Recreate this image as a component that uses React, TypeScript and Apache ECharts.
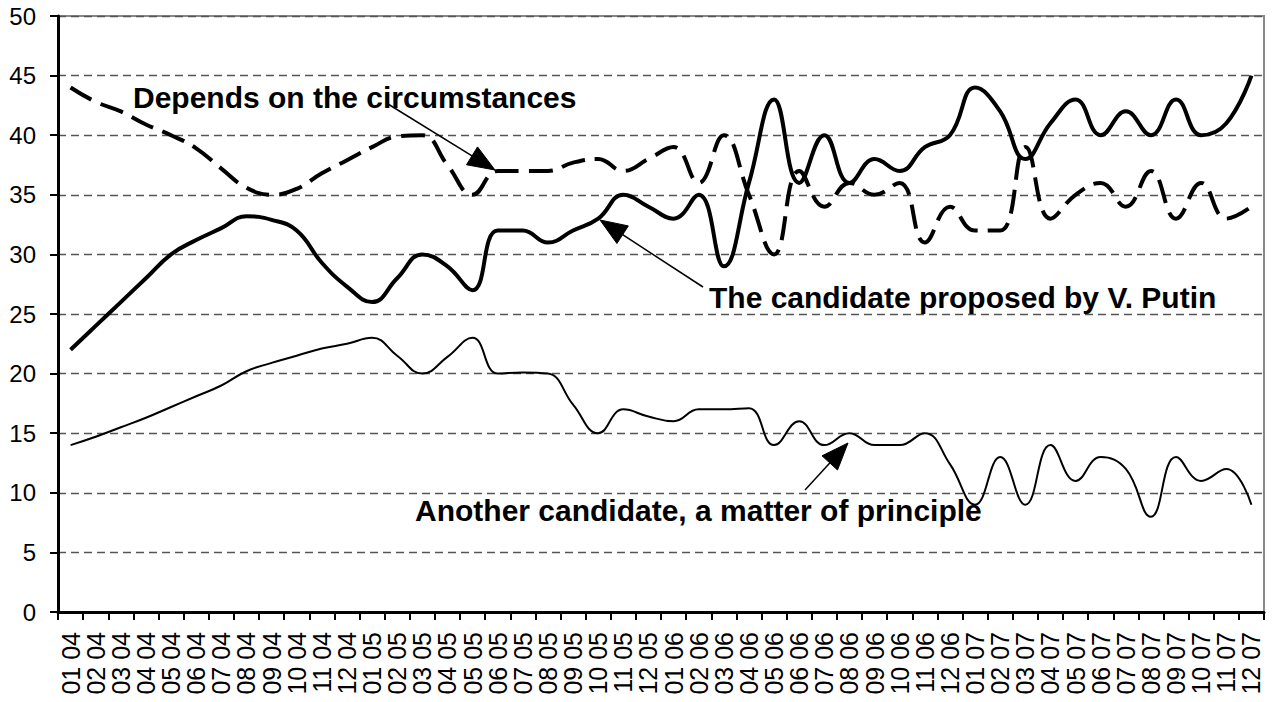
import React, { useEffect, useRef } from 'react';
import * as echarts from 'echarts';

const categories = [
  '01 04', '02 04', '03 04', '04 04', '05 04', '06 04', '07 04', '08 04', '09 04', '10 04', '11 04', '12 04',
  '01 05', '02 05', '03 05', '04 05', '05 05', '06 05', '07 05', '08 05', '09 05', '10 05', '11 05', '12 05',
  '01 06', '02 06', '03 06', '04 06', '05 06', '06 06', '07 06', '08 06', '09 06', '10 06', '11 06', '12 06',
  '01 07', '02 07', '03 07', '04 07', '05 07', '06 07', '07 07', '08 07', '09 07', '10 07', '11 07', '12 07',
];

// "The candidate proposed by V. Putin"
const putinValues = [
  22, 24, 26, 28, 30, 31.2, 32.2, 33.2, 32.9, 32, 29.3, 27.3,
  26, 28, 30, 29, 27, 32, 32, 31, 32, 33, 35, 34,
  33, 35, 29, 36, 43, 36, 40, 36, 38, 37, 39, 40,
  44, 42, 38, 41, 43, 40, 42, 40, 43, 40, 41, 45,
];

// "Depends on the circumstances"
const dependsValues = [
  44, 42.8, 42, 40.9, 40, 38.9, 37.2, 35.6, 35, 35.5, 36.8, 37.9,
  39, 39.9, 40, 37.5, 35, 37, 37, 37, 37.7, 38, 37, 38,
  39, 36, 40, 35, 30, 37, 34, 36, 35, 36, 31, 34,
  32, 32, 39, 33, 35, 36, 34, 37, 33, 36, 33, 34,
];

// "Another candidate, a matter of principle"
const anotherValues = [
  14, 14.7, 15.5, 16.3, 17.2, 18.1, 19, 20.2, 20.9, 21.5, 22.1, 22.5,
  23, 21.5, 20, 21.4, 23, 20, 20.1, 20, 17.4, 15, 17, 16.4,
  16, 17, 17, 17.1, 14, 16, 14, 15, 14, 14, 15, 12.4,
  9, 13, 9, 14, 11, 13, 12, 8, 13, 11, 12, 9,
];

const yMin = 0;
const yMax = 50;
const yInterval = 5;

const FONT = '"Liberation Sans", Arial, Helvetica, sans-serif';

function arrow(tail: number[], tip: number[]) {
  const dx = tip[0] - tail[0];
  const dy = tip[1] - tail[1];
  const len = Math.sqrt(dx * dx + dy * dy);
  const ux = dx / len;
  const uy = dy / len;
  const L = 27;
  const W = 10.5;
  const bx = tip[0] - ux * L;
  const by = tip[1] - uy * L;
  const nx = -uy;
  const ny = ux;
  return [
    {
      type: 'line',
      shape: { x1: tail[0], y1: tail[1], x2: bx, y2: by },
      style: { stroke: '#000', lineWidth: 1.5 },
      z: 100,
    },
    {
      type: 'polygon',
      shape: {
        points: [
          [tip[0], tip[1]],
          [bx + nx * W, by + ny * W],
          [bx - nx * W, by - ny * W],
        ],
      },
      style: { fill: '#000', stroke: '#000', lineWidth: 1 },
      z: 100,
    },
  ];
}

function label(text: string, x: number, y: number) {
  return {
    type: 'text',
    x,
    y,
    z: 100,
    style: {
      text,
      fill: '#000',
      fontSize: 30,
      fontWeight: 'bold',
      fontFamily: FONT,
      align: 'left',
      verticalAlign: 'middle',
    },
  };
}

export default function App() {
  const ref = useRef<HTMLDivElement>(null);

  useEffect(() => {
    if (!ref.current) return;
    const chart = echarts.init(ref.current, null, { renderer: 'svg' });

    const option: any = {
      animation: false,
      backgroundColor: '#fff',
      grid: {
        left: 58,
        top: 16,
        right: 8,
        bottom: 90,
        show: true,
        borderColor: '#888',
        borderWidth: 2,
        backgroundColor: 'transparent',
      },
      xAxis: {
        type: 'category',
        data: categories,
        boundaryGap: true,
        axisLine: { show: true, lineStyle: { color: '#000', width: 3 } },
        axisTick: {
          show: true,
          interval: 0,
          alignWithLabel: false,
          length: 8,
          lineStyle: { color: '#000', width: 2 },
        },
        axisLabel: {
          interval: 0,
          rotate: 90,
          margin: 20,
          color: '#000',
          fontSize: 25,
          fontFamily: FONT,
        },
        splitLine: { show: false },
      },
      yAxis: {
        type: 'value',
        min: yMin,
        max: yMax,
        interval: yInterval,
        axisLine: { show: true, lineStyle: { color: '#000', width: 3 } },
        axisTick: { show: true, length: 8, lineStyle: { color: '#000', width: 2 } },
        axisLabel: {
          margin: 22,
          color: '#000',
          fontSize: 24,
          fontFamily: FONT,
        },
        splitLine: {
          show: true,
          lineStyle: { color: '#555', width: 1.3, type: [8, 5] },
        },
      },
      series: [
        {
          name: 'Another candidate, a matter of principle',
          type: 'line',
          data: anotherValues,
          smooth: 0.45,
          symbol: 'none',
          lineStyle: { color: '#000', width: 2 },
          z: 3,
        },
        {
          name: 'Depends on the circumstances',
          type: 'line',
          data: dependsValues,
          smooth: 0.45,
          symbol: 'none',
          lineStyle: { color: '#000', width: 4, type: [24, 10] },
          z: 4,
        },
        {
          name: 'The candidate proposed by V. Putin',
          type: 'line',
          data: putinValues,
          smooth: 0.45,
          symbol: 'none',
          lineStyle: { color: '#000', width: 4 },
          z: 5,
        },
      ],
      graphic: [
        label('Depends on the circumstances', 133, 97),
        label('The candidate proposed by V. Putin', 709, 297),
        label('Another candidate, a matter of principle', 415, 510),
        ...arrow([388, 104], [495, 170]),
        ...arrow([703, 287], [600, 220]),
        ...arrow([805, 490], [848, 443]),
      ],
    };

    chart.setOption(option);
    return () => chart.dispose();
  }, []);

  return (
    <div
      ref={ref}
      style={{ position: 'absolute', left: 0, top: 0, width: 1272, height: 702, background: '#fff' }}
    />
  );
}
